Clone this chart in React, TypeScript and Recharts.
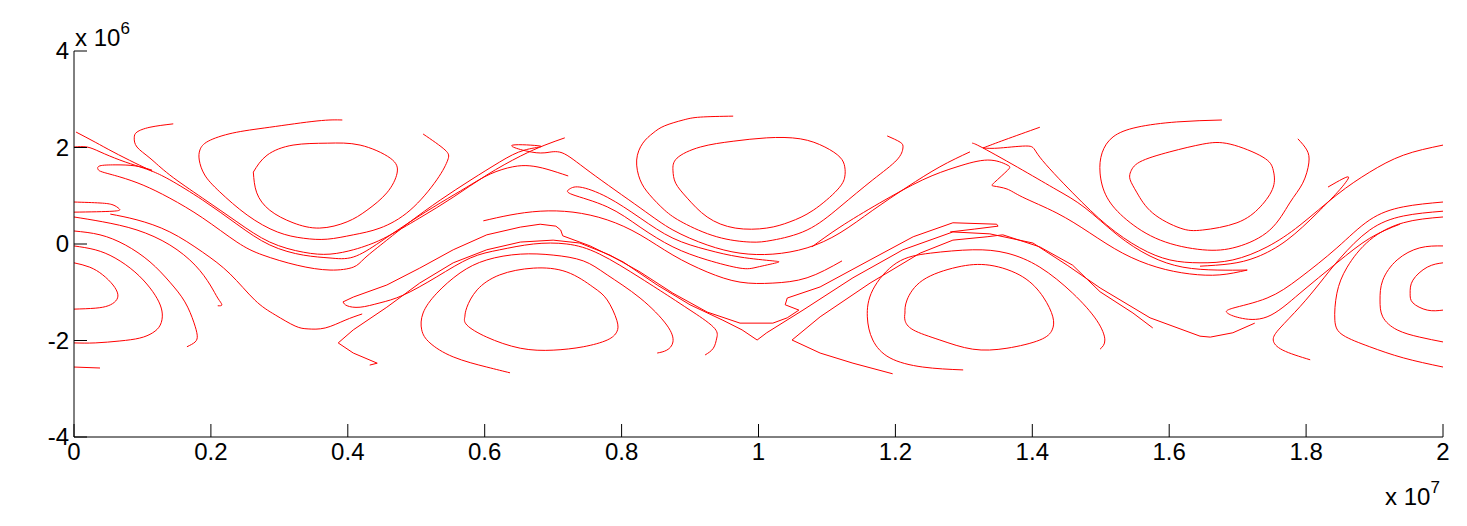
import React from 'react';
import { LineChart, Line, XAxis, YAxis } from 'recharts';

type Pt = [number, number];

// x in units of 1e7, y in units of 1e6 (as the axis exponents say)
const xTicks = [0, 0.2, 0.4, 0.6, 0.8, 1, 1.2, 1.4, 1.6, 1.8, 2];
const yTicks = [-4, -2, 0, 2, 4];

// left edge eddy (x = 0)
const leftCore: Pt[] = [[0, -0.39], [0.023, -0.48], [0.042, -0.64], [0.057, -0.85], [0.064, -1.04], [0.061, -1.18], [0.05, -1.28], [0.031, -1.33], [0, -1.35]];
const leftRing2: Pt[] = [[0, -0.04], [0.031, -0.12], [0.06, -0.29], [0.089, -0.58], [0.111, -0.91], [0.124, -1.2], [0.129, -1.45], [0.126, -1.68], [0.115, -1.84], [0.096, -1.95], [0.067, -2.01], [0.031, -2.05], [0, -2.05]];
const leftRing3: Pt[] = [[0, 0.27], [0.038, 0.19], [0.075, -0.02], [0.111, -0.37], [0.14, -0.79], [0.162, -1.2], [0.175, -1.62], [0.18, -1.89], [0.177, -2.03], [0.165, -2.13]];
const leftRing4: Pt[] = [[0, 0.56], [0.042, 0.46], [0.092, 0.29], [0.14, -0.02], [0.177, -0.44], [0.199, -0.85], [0.21, -1.12], [0.216, -1.26], [0.21, -1.28]];
const leftHook: Pt[] = [[0, 0.87], [0.038, 0.85], [0.057, 0.81], [0.066, 0.73], [0.057, 0.68], [0, 0.66]];
const leftSweep: Pt[] = [[0.053, 0.62], [0.092, 0.5], [0.14, 0.25], [0.188, -0.17], [0.228, -0.62], [0.264, -1.16], [0.294, -1.47], [0.323, -1.7], [0.342, -1.76], [0.367, -1.74], [0.396, -1.58], [0.421, -1.45]];
const leftStub: Pt[] = [[0, -2.55], [0.038, -2.57]];

// band of lines from the top left
const topLeftA: Pt[] = [[0.003, 2.32], [0.031, 2.11], [0.057, 1.91], [0.089, 1.68], [0.114, 1.51]];
const topLeftB: Pt[] = [[0, 2.01], [0.019, 2.01], [0.038, 1.91], [0.067, 1.74], [0.096, 1.6], [0.114, 1.51]];
const bandUpper: Pt[] = [[0.145, 2.49], [0.111, 2.42], [0.092, 2.32], [0.088, 2.2], [0.092, 2.01], [0.111, 1.78], [0.14, 1.43], [0.188, 0.95], [0.238, 0.46], [0.286, 0.04], [0.335, -0.17], [0.374, -0.21], [0.408, -0.12], [0.43, -0.02], [0.457, 0.15], [0.505, 0.54], [0.554, 0.97], [0.603, 1.43], [0.652, 1.82], [0.688, 2.05], [0.717, 2.2]];
const bandHump: Pt[] = [[0.114, 1.51], [0.14, 1.33], [0.188, 0.91], [0.238, 0.41], [0.286, -0.02], [0.335, -0.23], [0.374, -0.29], [0.408, -0.27], [0.447, 0.04], [0.491, 0.46], [0.535, 0.85], [0.574, 1.18], [0.608, 1.45], [0.641, 1.6], [0.666, 1.62], [0.691, 1.55], [0.722, 1.41]];
const bandLoop: Pt[] = [[0.114, 1.53], [0.089, 1.62], [0.06, 1.64], [0.038, 1.62], [0.035, 1.55], [0.042, 1.49], [0.067, 1.39], [0.101, 1.22], [0.14, 0.95], [0.188, 0.54], [0.238, 0.04], [0.276, -0.23], [0.326, -0.44], [0.374, -0.54], [0.408, -0.48], [0.425, -0.29], [0.457, 0.08], [0.491, 0.46], [0.535, 0.91], [0.58, 1.33], [0.622, 1.7], [0.659, 1.95], [0.681, 2.03], [0.641, 2.05], [0.66, 1.93], [0.688, 1.89], [0.713, 1.89], [0.754, 1.49], [0.827, 0.75], [0.875, 0.29], [0.925, -0.02], [0.973, -0.19], [1.021, -0.21], [1.071, -0.08], [1.119, 0.23], [1.167, 0.7], [1.217, 1.18], [1.265, 1.6], [1.309, 1.91]];

// first upper eddy
const topEddy1Inner: Pt[] = [[0.262, 1.49], [0.282, 1.84], [0.32, 2.05], [0.37, 2.09], [0.418, 2.05], [0.462, 1.78], [0.472, 1.47], [0.457, 1.06], [0.428, 0.7], [0.399, 0.46], [0.359, 0.33], [0.32, 0.44], [0.286, 0.7], [0.267, 1.06], [0.262, 1.49]];
const topEddy1Outer: Pt[] = [[0.392, 2.57], [0.355, 2.55], [0.286, 2.42], [0.232, 2.3], [0.196, 2.13], [0.184, 1.95], [0.183, 1.74], [0.191, 1.43], [0.213, 1.08], [0.253, 0.6], [0.297, 0.25], [0.335, 0.12], [0.37, 0.1], [0.408, 0.19], [0.447, 0.33], [0.491, 0.7], [0.53, 1.33], [0.546, 1.74], [0.542, 1.95], [0.51, 2.28]];

// middle region
const midLoop: Pt[] = [[0.722, 1.12], [0.739, 1.18], [0.779, 0.97], [0.827, 0.54], [0.875, 0.12], [0.925, -0.12], [0.973, -0.27], [1.021, -0.35], [1.026, -0.39], [0.998, -0.48], [0.973, -0.5], [0.925, -0.33], [0.875, -0.06], [0.827, 0.35], [0.779, 0.77], [0.729, 1.02], [0.722, 1.12]];
const midSweep: Pt[] = [[0.598, 0.48], [0.637, 0.6], [0.681, 0.68], [0.729, 0.66], [0.779, 0.5], [0.827, 0.19], [0.875, -0.23], [0.925, -0.58], [0.973, -0.79], [1.021, -0.81], [1.071, -0.7], [1.122, -0.35]];
const chevron1: Pt[] = [[0.432, -2.51], [0.443, -2.47], [0.408, -2.26], [0.386, -2.05], [0.408, -1.78], [0.457, -1.31], [0.505, -0.81], [0.554, -0.39], [0.603, -0.12], [0.652, 0.04], [0.7, 0.08], [0.739, 0.02], [0.783, -0.23], [0.827, -0.58], [0.875, -1.02], [0.925, -1.41], [0.973, -1.64], [1.021, -1.64], [1.042, -1.53], [1.059, -1.37], [1.039, -1.26], [1.042, -1.12], [1.09, -0.89], [1.163, -0.33], [1.226, 0.15], [1.284, 0.44], [1.348, 0.41], [1.35, 0.37], [1.316, 0.31], [1.28, 0.25]];
const troughUpper: Pt[] = [[0.393, -1.2], [0.408, -1.1], [0.457, -0.85], [0.505, -0.5], [0.554, -0.12], [0.603, 0.19], [0.652, 0.35], [0.681, 0.41], [0.704, 0.37], [0.711, 0.29], [0.714, 0.17], [0.754, -0.04], [0.802, -0.37], [0.852, -0.85], [0.9, -1.26], [0.948, -1.58], [0.976, -1.78], [0.998, -1.99], [1.012, -1.84], [1.065, -1.37], [1.138, -0.7], [1.211, -0.12], [1.284, 0.25], [1.338, 0.21], [1.401, 0.02], [1.451, -0.44], [1.499, -0.91], [1.572, -1.53], [1.645, -1.91], [1.66, -1.93], [1.693, -1.84], [1.725, -1.64]];
const troughLower: Pt[] = [[0.393, -1.2], [0.399, -1.28], [0.418, -1.31], [0.447, -1.22], [0.481, -1.06], [0.53, -0.68], [0.579, -0.29], [0.622, -0.12], [0.671, 0], [0.72, 0], [0.768, -0.21], [0.827, -0.7], [0.871, -1.1], [0.9, -1.37], [0.934, -1.72], [0.939, -1.95], [0.934, -2.16], [0.922, -2.3]];
const chevron2: Pt[] = [[1.196, -2.69], [1.138, -2.47], [1.09, -2.26], [1.049, -1.99], [1.09, -1.51], [1.163, -0.81], [1.236, -0.19], [1.284, 0.08], [1.334, 0.15], [1.357, 0.19], [1.411, -0.06], [1.459, -0.44], [1.499, -0.99], [1.547, -1.43], [1.576, -1.74]];

// second lower eddy
const lowEddy2Inner: Pt[] = [[0.571, -1.51], [0.574, -1.31], [0.589, -0.95], [0.622, -0.64], [0.671, -0.5], [0.72, -0.58], [0.758, -0.89], [0.779, -1.16], [0.793, -1.58], [0.793, -1.82], [0.779, -1.99], [0.744, -2.13], [0.7, -2.2], [0.652, -2.16], [0.603, -1.93], [0.574, -1.68], [0.571, -1.51]];
const lowEddy2Outer: Pt[] = [[0.637, -2.67], [0.603, -2.55], [0.554, -2.34], [0.52, -2.05], [0.508, -1.78], [0.51, -1.43], [0.53, -1.02], [0.564, -0.6], [0.603, -0.33], [0.652, -0.21], [0.7, -0.23], [0.744, -0.35], [0.779, -0.64], [0.827, -1.12], [0.866, -1.68], [0.875, -2.03], [0.866, -2.2], [0.852, -2.26]];

// second upper eddy
const topEddy2Inner: Pt[] = [[0.875, 1.53], [0.881, 1.78], [0.915, 2.01], [0.963, 2.13], [1.012, 2.2], [1.061, 2.18], [1.097, 2.01], [1.119, 1.8], [1.126, 1.6], [1.126, 1.39], [1.115, 1.12], [1.08, 0.7], [1.046, 0.46], [1.012, 0.33], [0.966, 0.33], [0.925, 0.56], [0.896, 0.95], [0.879, 1.26], [0.875, 1.53]];
const topEddy2Outer: Pt[] = [[0.963, 2.65], [0.915, 2.63], [0.89, 2.57], [0.863, 2.45], [0.846, 2.3], [0.831, 2.09], [0.822, 1.74], [0.827, 1.33], [0.841, 1.02], [0.863, 0.7], [0.89, 0.44], [0.939, 0.15], [0.988, 0.04], [1.021, 0.08], [1.071, 0.29], [1.119, 0.77], [1.167, 1.33], [1.202, 1.74], [1.211, 1.99], [1.207, 2.11], [1.188, 2.24]];

// crossing near x = 1.33
const kinkLine: Pt[] = [[1.078, -0.06], [1.119, 0.35], [1.177, 0.85], [1.24, 1.33], [1.29, 1.6], [1.335, 1.74], [1.363, 1.64], [1.364, 1.53], [1.345, 1.28], [1.344, 1.2], [1.363, 1.14], [1.386, 0.97], [1.436, 0.64], [1.484, 0.23], [1.532, -0.19], [1.582, -0.48], [1.63, -0.62], [1.674, -0.64], [1.714, -0.54]];
const crossA: Pt[] = [[1.312, 2.09], [1.328, 1.99], [1.386, 1.53], [1.436, 1.12], [1.477, 0.75], [1.524, 0.19], [1.572, -0.25], [1.62, -0.48], [1.67, -0.54], [1.714, -0.54]];
const crossB: Pt[] = [[1.328, 1.99], [1.353, 1.99], [1.394, 2.03], [1.411, 1.8], [1.459, 1.06], [1.509, 0.39], [1.557, -0.08], [1.601, -0.33], [1.645, -0.39], [1.693, -0.33], [1.743, -0.06], [1.791, 0.39], [1.845, 1.02], [1.893, 1.49], [1.942, 1.84], [2, 2.05]];
const crossHook: Pt[] = [[1.645, -0.46], [1.689, -0.41], [1.728, -0.27], [1.772, 0.08], [1.816, 0.64], [1.845, 1.06], [1.858, 1.28], [1.86, 1.39], [1.832, 1.18]];
const crossStub: Pt[] = [[1.328, 1.99], [1.36, 2.16], [1.411, 2.42]];

// third upper eddy
const topEddy3Inner: Pt[] = [[1.543, 1.47], [1.557, 1.7], [1.601, 1.91], [1.649, 2.07], [1.689, 2.07], [1.737, 1.8], [1.752, 1.53], [1.752, 1.18], [1.733, 0.77], [1.699, 0.44], [1.649, 0.29], [1.616, 0.33], [1.576, 0.64], [1.553, 1.06], [1.543, 1.33], [1.543, 1.47]];
const topEddy3Outer: Pt[] = [[1.677, 2.57], [1.611, 2.53], [1.553, 2.42], [1.518, 2.22], [1.502, 1.89], [1.499, 1.47], [1.509, 0.97], [1.538, 0.5], [1.587, 0.08], [1.649, -0.12], [1.699, -0.06], [1.747, 0.29], [1.776, 0.85], [1.795, 1.26], [1.804, 1.68], [1.801, 1.95], [1.788, 2.18]];

// third lower eddy
const lowEddy3Inner: Pt[] = [[1.214, -1.43], [1.217, -1.16], [1.24, -0.75], [1.29, -0.48], [1.338, -0.44], [1.386, -0.68], [1.416, -1.1], [1.43, -1.51], [1.429, -1.78], [1.411, -1.99], [1.363, -2.16], [1.313, -2.18], [1.265, -1.99], [1.226, -1.78], [1.214, -1.58], [1.214, -1.43]];
const lowEddy3Outer: Pt[] = [[1.299, -2.61], [1.24, -2.55], [1.192, -2.36], [1.167, -1.99], [1.159, -1.51], [1.167, -0.95], [1.202, -0.39], [1.251, -0.19], [1.313, -0.12], [1.363, -0.19], [1.411, -0.48], [1.459, -1.02], [1.494, -1.58], [1.506, -1.99], [1.499, -2.18]];

// right edge eddy (x = 2)
const rightCore: Pt[] = [[2, -0.39], [1.977, -0.48], [1.956, -0.75], [1.952, -1.02], [1.956, -1.22], [1.977, -1.37], [2, -1.37]];
const rightRing2: Pt[] = [[2, -0.04], [1.966, -0.08], [1.933, -0.33], [1.912, -0.75], [1.908, -1.16], [1.912, -1.51], [1.933, -1.78], [1.966, -1.93], [2, -2.03]];
const rightRing3: Pt[] = [[2, 0.56], [1.942, 0.44], [1.893, 0.08], [1.86, -0.48], [1.845, -1.02], [1.842, -1.58], [1.854, -1.89], [1.893, -2.13], [1.942, -2.36], [2, -2.55]];
const rightRing4: Pt[] = [[2, 0.68], [1.942, 0.58], [1.893, 0.29], [1.85, -0.29], [1.82, -0.81], [1.791, -1.3], [1.762, -1.74], [1.752, -1.99], [1.766, -2.2], [1.806, -2.4]];
const rightHairpin: Pt[] = [[2, 0.87], [1.942, 0.77], [1.893, 0.5], [1.845, -0.08], [1.791, -0.7], [1.743, -1.12], [1.693, -1.33], [1.685, -1.43], [1.703, -1.53], [1.743, -1.51], [1.791, -1.02], [1.845, -0.39], [1.893, 0.12], [1.937, 0.41]];

// most lines get a spline; the three with a sharp V stay straight between points
const smoothLines: Pt[][] = [
  leftCore, leftRing2, leftRing3, leftRing4, leftHook, leftSweep, leftStub,
  topLeftA, topLeftB, bandUpper, bandHump, bandLoop,
  topEddy1Inner, topEddy1Outer, midLoop, midSweep, troughLower,
  lowEddy2Inner, lowEddy2Outer, topEddy2Inner, topEddy2Outer,
  kinkLine, crossA, crossB, crossHook, crossStub,
  topEddy3Inner, topEddy3Outer, lowEddy3Inner, lowEddy3Outer,
  rightCore, rightRing2, rightRing3, rightRing4, rightHairpin,
];
const sharpLines: Pt[][] = [chevron1, troughUpper, chevron2];

const FONT = '"Liberation Sans", Arial, Helvetica, sans-serif';

const XTick = (props: any) => {
  const { x, y, payload } = props;
  return (
    <g>
      <line x1={x} y1={y} x2={x} y2={y - 13} stroke="#000" strokeWidth={1} />
      <text x={x} y={y + 23} textAnchor="middle" fontSize={24} fontFamily={FONT} fill="#000">
        {String(payload.value)}
      </text>
    </g>
  );
};

const YTick = (props: any) => {
  const { x, y, payload } = props;
  return (
    <g>
      <line x1={x} y1={y} x2={x + 13} y2={y} stroke="#000" strokeWidth={1} />
      <text x={x - 5} y={y} dy="0.35em" textAnchor="end" fontSize={24} fontFamily={FONT} fill="#000">
        {String(payload.value)}
      </text>
    </g>
  );
};

const toRows = (pts: Pt[]) => pts.map(([x, y]) => ({ x, y }));

const App: React.FC = () => {
  return (
    <div style={{ position: 'relative', width: 1450, height: 510, background: '#fff', fontFamily: FONT }}>
      <LineChart width={1450} height={510} margin={{ top: 43, right: 15, bottom: 51, left: 0 }}>
        <XAxis
          type="number"
          dataKey="x"
          domain={[0, 2]}
          ticks={xTicks}
          allowDataOverflow
          height={30}
          tickSize={0}
          tickMargin={0}
          tickLine={false}
          axisLine={{ stroke: '#000', strokeWidth: 1 }}
          tick={<XTick />}
          interval={0}
        />
        <YAxis
          type="number"
          domain={[-4, 4]}
          ticks={yTicks}
          allowDataOverflow
          width={66}
          tickSize={0}
          tickMargin={0}
          tickLine={false}
          axisLine={{ stroke: '#000', strokeWidth: 1 }}
          tick={<YTick />}
          interval={0}
        />
        {smoothLines.map((pts, i) => (
          <Line
            key={`c-${i}`}
            data={toRows(pts)}
            dataKey="y"
            type="natural"
            stroke="#ff0000"
            strokeWidth={1}
            dot={false}
            activeDot={false}
            isAnimationActive={false}
          />
        ))}
        {sharpLines.map((pts, i) => (
          <Line
            key={`s-${i}`}
            data={toRows(pts)}
            dataKey="y"
            type="linear"
            stroke="#ff0000"
            strokeWidth={1}
            dot={false}
            activeDot={false}
            isAnimationActive={false}
          />
        ))}
      </LineChart>
      <svg width={1450} height={510} style={{ position: 'absolute', left: 0, top: 0, pointerEvents: 'none' }}>
        <text x={67} y={38} fontSize={24} fontFamily={FONT} fill="#000">
          x 10<tspan fontSize={17} dy={-12}>6</tspan>
        </text>
        <text x={1377} y={497} fontSize={24} fontFamily={FONT} fill="#000">
          x 10<tspan fontSize={17} dy={-12}>7</tspan>
        </text>
      </svg>
    </div>
  );
};

export default App;
